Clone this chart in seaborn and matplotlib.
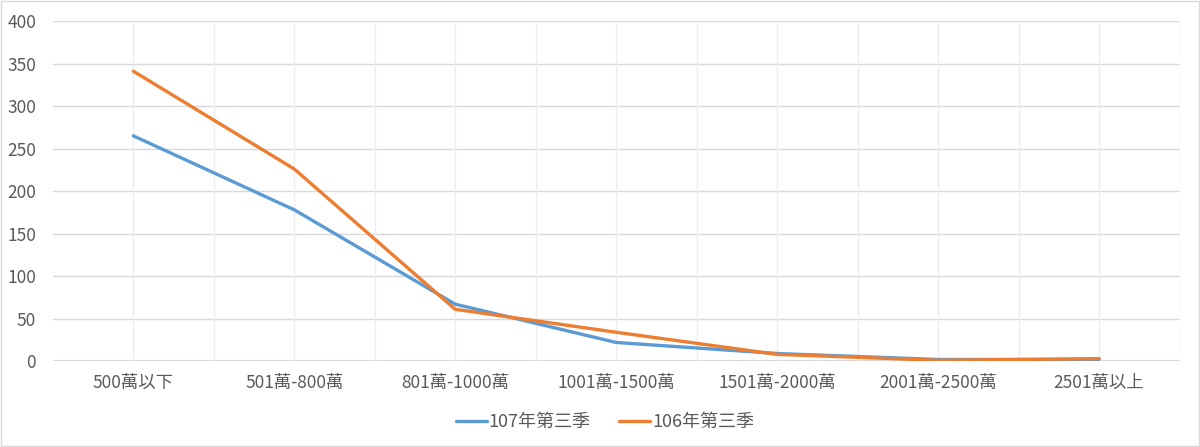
import pandas as pd
import matplotlib.pyplot as plt
import seaborn as sns
from matplotlib.patches import Rectangle

categories = ['500萬以下', '501萬-800萬', '801萬-1000萬', '1001萬-1500萬',
              '1501萬-2000萬', '2001萬-2500萬', '2501萬以上']
q3_107 = [265, 178, 67, 22, 9, 2, 2]
q3_106 = [341, 226, 61, 34, 8, 1, 3]
series_names = ['107年第三季', '106年第三季']

df = pd.DataFrame({
    'range': categories * 2,
    'count': q3_107 + q3_106,
    'series': [series_names[0]] * len(categories) + [series_names[1]] * len(categories),
})
df['pos'] = list(range(len(categories))) * 2

sns.set_style('white')
plt.rcParams['font.family'] = ['Noto Sans CJK TC', 'DejaVu Sans']

fig = plt.figure(figsize=(12, 4.47), dpi=100)
ax = fig.add_axes([0.044, 0.192, 0.939, 0.761])

sns.lineplot(data=df, x='pos', y='count', hue='series', sort=False,
             palette=['#5B9BD5', '#ED7D31'], linewidth=2.4, ax=ax, legend=True)

ax.set_xlim(-0.5, len(categories) - 0.5)
ax.set_ylim(0, 400)
ax.set_yticks(range(0, 401, 50))
ax.set_xticks(range(len(categories)))
ax.set_xticklabels(categories)
ax.set_xlabel('')
ax.set_ylabel('')

# gridlines: horizontal every 50, vertical at categories and midpoints
for y in range(50, 401, 50):
    ax.axhline(y, color='#D9D9D9', lw=1, zorder=0)
ax.axhline(0, color='#D9D9D9', lw=1.5, zorder=0)
for i in range(len(categories)):
    ax.axvline(i, color='#EDEDED', lw=1, zorder=0)
    ax.axvline(i + 0.5, color='#EDEDED', lw=1, zorder=0)

for s in ax.spines.values():
    s.set_visible(False)
ax.tick_params(axis='both', length=0, labelsize=12.5, labelcolor='#595959')
ax.tick_params(axis='x', pad=9)
ax.tick_params(axis='y', pad=12)

leg = ax.legend(loc='upper center', bbox_to_anchor=(0.49, -0.105), ncol=2,
                frameon=False, fontsize=13, handlelength=1.7,
                columnspacing=1.6, handletextpad=0.1)
for t in leg.get_texts():
    t.set_color('#595959')

fig.patches.append(Rectangle((0.001, 0.002), 0.998, 0.996, transform=fig.transFigure,
                             fill=False, edgecolor='#D9D9D9', lw=1))

fig.savefig('out.png', dpi=100)
